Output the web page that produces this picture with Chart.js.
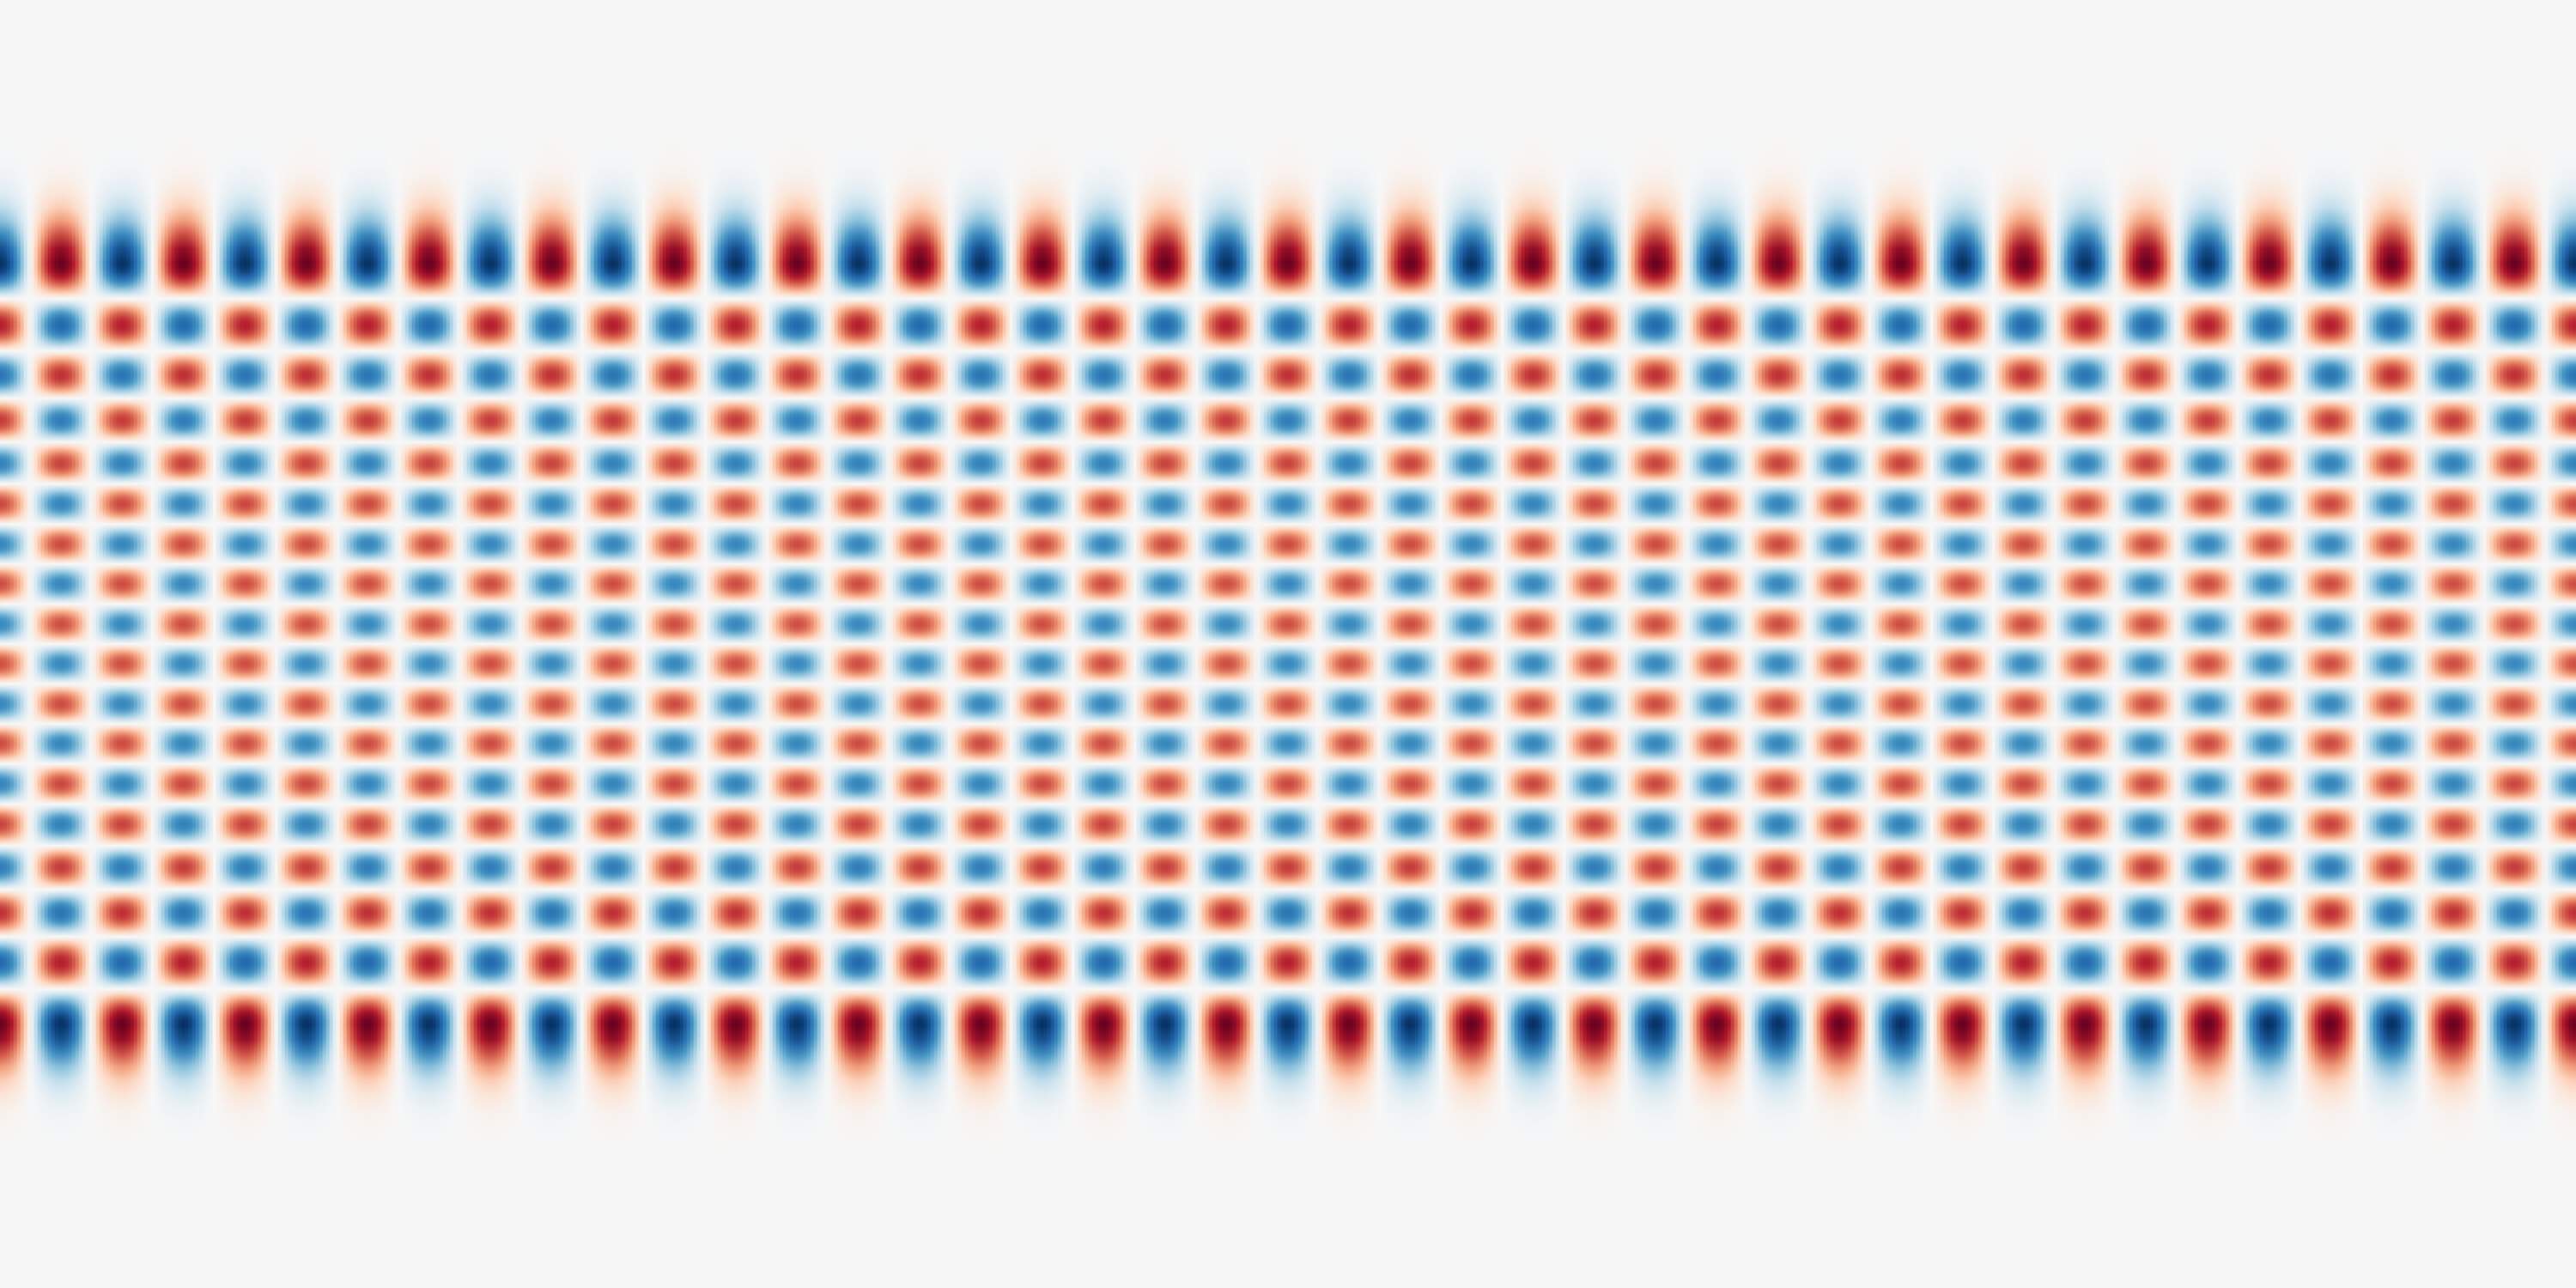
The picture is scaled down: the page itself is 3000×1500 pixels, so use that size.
<!DOCTYPE html>
<html>
<head>
<meta charset="utf-8">
<script src="https://cdn.jsdelivr.net/npm/chart.js@4.4.1/dist/chart.umd.min.js"></script>
<style>
  html, body { margin: 0; padding: 0; background: #f7f7f7; overflow: hidden; }
  #wrap { width: 3000px; height: 1500px; position: relative; }
  canvas { display: block; }
</style>
</head>
<body>
<div id="wrap"><canvas id="c" width="3000" height="1500"></canvas></div>
<script>
// ---- data ----
// signed peak value of each blob column (column k centred at x = k)
const columnValues = [1, -1, 1, -1, 1, -1, 1, -1, 1, -1, 1, -1, 1, -1, 1, -1, 1, -1, 1, -1, 1, -1,
                      1, -1, 1, -1, 1, -1, 1, -1, 1, -1, 1, -1, 1, -1, 1, -1, 1, -1, 1, -1, 1];
// centre of each row of blobs (top to bottom) and its signed peak value in column 0
const rowPositions = [4.44, 3.71, 3.13, 2.60, 2.10, 1.63, 1.16, 0.70, 0.23,
                      -0.23, -0.70, -1.16, -1.63, -2.10, -2.60, -3.13, -3.71, -4.44];
const rowValues = [1.00, -0.79, 0.74, -0.707, 0.686, -0.672, 0.663, -0.658, 0.655,
                   -0.655, 0.658, -0.663, 0.672, -0.686, 0.707, -0.74, 0.79, -1.00];
// zero lines between consecutive rows
const zeroPositions = [4.02, 3.41, 2.86, 2.35, 1.865, 1.395, 0.93, 0.465, 0,
                       -0.465, -0.93, -1.395, -1.865, -2.35, -2.86, -3.41, -4.02];
// fading tail outside the outermost rows (distance beyond the peak, fraction of peak)
const tailOffsets = [0.165, 0.324, 0.483, 0.642, 0.801, 0.96, 1.119, 1.278, 1.596];
const tailValues  = [0.888, 0.663, 0.432, 0.253, 0.134, 0.065, 0.029, 0.012, 0.002];
// cross-section of one half blob, from its zero line (0) to its peak (1)
const lobeShape = [0, 0.195, 0.383, 0.556, 0.707, 0.831, 0.924, 0.981, 1];
const xRange = [0, 42];
const yRange = [-7.5, 7.5];
const stripCount = 750;

// ---- colour map (RdBu) ----
const rdbu = ['#67001f','#b2182b','#d6604d','#f4a582','#fddbc7','#f7f7f7',
              '#d1e5f0','#92c5de','#4393c3','#2166ac','#053061'];
const rdbuRGB = rdbu.map(h => [parseInt(h.slice(1,3),16), parseInt(h.slice(3,5),16), parseInt(h.slice(5,7),16)]);
function cmap(v) {
  let t = (v + 1) / 2;
  t = Math.max(0, Math.min(1, t));
  const p = t * (rdbuRGB.length - 1);
  const i = Math.min(rdbuRGB.length - 2, Math.floor(p));
  const f = p - i;
  const a = rdbuRGB[i], b = rdbuRGB[i + 1];
  return 'rgb(' + Math.round(a[0] + (b[0]-a[0])*f) + ',' + Math.round(a[1] + (b[1]-a[1])*f) + ',' + Math.round(a[2] + (b[2]-a[2])*f) + ')';
}

function shapeAt(f) {
  const p = Math.max(0, Math.min(1, f)) * (lobeShape.length - 1);
  const i = Math.min(lobeShape.length - 2, Math.floor(p));
  const r = p - i;
  return lobeShape[i] + (lobeShape[i+1] - lobeShape[i]) * r;
}

// vertical profile built from the row data
function buildProfile() {
  const pts = [];
  const n = rowPositions.length;
  const m = lobeShape.length - 1;
  pts.push({ y: yRange[1], v: 0 });
  for (let i = tailOffsets.length - 1; i >= 0; i--) {
    pts.push({ y: rowPositions[0] + tailOffsets[i], v: rowValues[0] * tailValues[i] });
  }
  for (let j = 0; j < n; j++) {
    pts.push({ y: rowPositions[j], v: rowValues[j] });
    if (j < n - 1) {
      const a = rowPositions[j], z = zeroPositions[j], b = rowPositions[j + 1];
      for (let i = m - 1; i >= 1; i--) pts.push({ y: z + (a - z) * i / m, v: rowValues[j] * lobeShape[i] });
      pts.push({ y: z, v: 0 });
      for (let i = 1; i <= m - 1; i++) pts.push({ y: z + (b - z) * i / m, v: rowValues[j + 1] * lobeShape[i] });
    }
  }
  for (let i = 0; i < tailOffsets.length; i++) {
    pts.push({ y: rowPositions[n - 1] - tailOffsets[i], v: rowValues[n - 1] * tailValues[i] });
  }
  pts.push({ y: yRange[0], v: 0 });
  return pts;
}
const profile = buildProfile();

// strips across x
const stripData = [];
const stripVal = [];
for (let s = 0; s < stripCount; s++) {
  const x = xRange[0] + (s + 0.5) * (xRange[1] - xRange[0]) / stripCount;
  const k = Math.round(x);
  const u = Math.min(1, Math.abs(x - k) * 2);
  stripVal.push(columnValues[k] * shapeAt(1 - u));
  stripData.push({ x: x, y: [yRange[0], yRange[1]] });
}

const gradCache = {};
function stripFill(ctx) {
  const chart = ctx.chart;
  const area = chart.chartArea;
  if (!area || ctx.type !== 'data') return '#f7f7f7';
  const key = ctx.dataIndex + ':' + area.top + ':' + area.bottom;
  if (gradCache[key]) return gradCache[key];
  const ys = chart.scales.y;
  const top = area.top, bottom = area.bottom, h = bottom - top;
  const g = chart.ctx.createLinearGradient(0, top, 0, bottom);
  const cv = stripVal[ctx.dataIndex];
  for (const p of profile) {
    const off = Math.max(0, Math.min(1, (ys.getPixelForValue(p.y) - top) / h));
    g.addColorStop(off, cmap(cv * p.v));
  }
  gradCache[key] = g;
  return g;
}

new Chart(document.getElementById('c'), {
  type: 'bar',
  data: {
    datasets: [{
      data: stripData,
      backgroundColor: stripFill,
      borderWidth: 0,
      barPercentage: 1,
      categoryPercentage: 1,
      grouped: false
    }]
  },
  options: {
    responsive: false,
    devicePixelRatio: 1,
    animation: false,
    events: [],
    layout: { padding: 0 },
    plugins: { legend: { display: false }, tooltip: { enabled: false }, title: { display: false } },
    scales: {
      x: { type: 'linear', min: xRange[0], max: xRange[1], offset: false, display: false },
      y: { type: 'linear', min: yRange[0], max: yRange[1], display: false }
    }
  }
});
</script>
</body>
</html>
